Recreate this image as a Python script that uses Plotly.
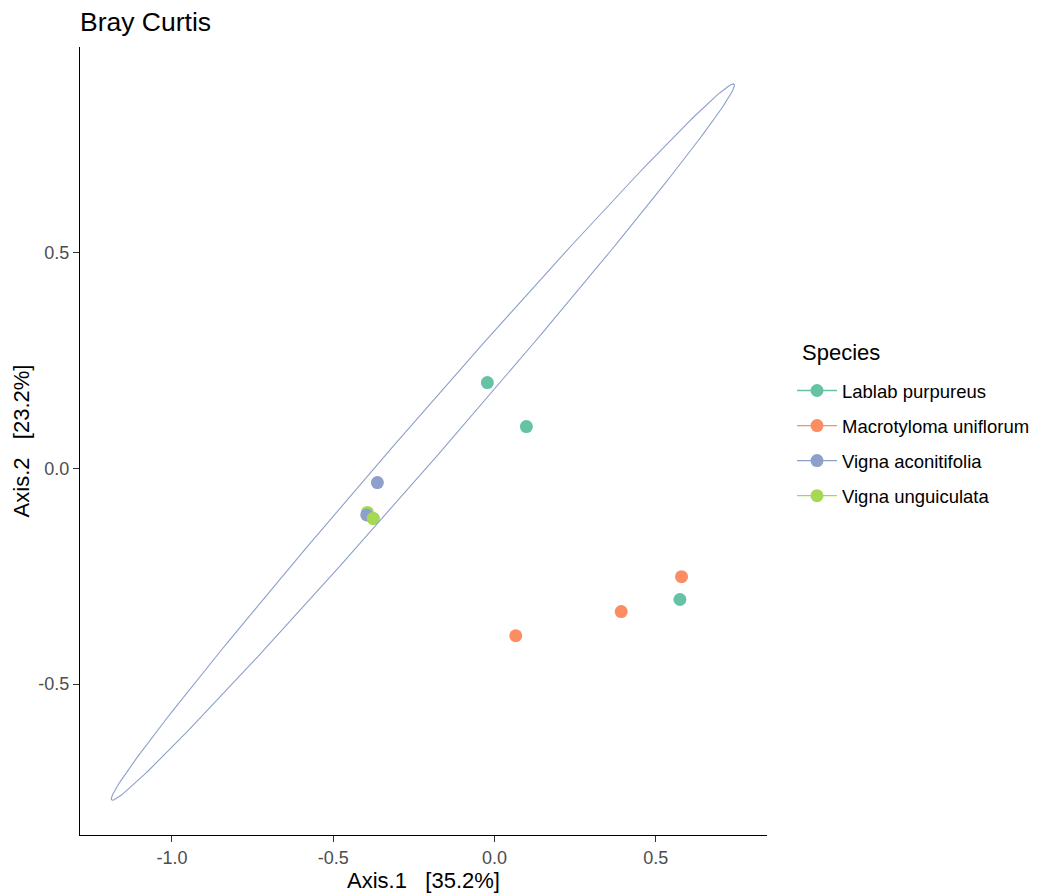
import numpy as np
import plotly.graph_objects as go

# PCoA ordination scores (Bray-Curtis), per species
species = ["Lablab purpureus", "Macrotyloma uniflorum", "Vigna aconitifolia", "Vigna unguiculata"]
colors = ["#66C2A5", "#FC8D62", "#8DA0CB", "#A6D854"]

lablab_x = [-0.022, 0.099, 0.575]
lablab_y = [0.199, 0.097, -0.304]
macro_x = [0.580, 0.393, 0.066]
macro_y = [-0.251, -0.332, -0.388]
aconit_x = [-0.363, -0.396]
aconit_y = [-0.033, -0.108]
unguic_x = [-0.394, -0.376]
unguic_y = [-0.102, -0.116]

# Confidence ellipse for Vigna aconitifolia: centre, major and minor half-axis vectors
ell_center = (-0.222, 0.061)
ell_major = (0.965, 0.830)
ell_minor = (0.046, -0.030)

x_ticks = [-1.0, -0.5, 0.0, 0.5]
x_ticktext = ["-1.0", "-0.5", "0.0", "0.5"]
y_ticks = [-0.5, 0.0, 0.5]
y_ticktext = ["-0.5", "0.0", "0.5"]

FONT = "Liberation Sans, Arial, sans-serif"
MSIZE = 13

fig = go.Figure()

series = [
    (species[0], colors[0], lablab_x, lablab_y),
    (species[1], colors[1], macro_x, macro_y),
    (species[3], colors[3], unguic_x, unguic_y),
    (species[2], colors[2], aconit_x, aconit_y),
]
for name, col, xs, ys in series:
    fig.add_trace(go.Scatter(
        x=xs, y=ys, mode="markers", name=name, legendgroup=name, showlegend=False,
        marker=dict(color=col, size=MSIZE, line=dict(width=0)),
    ))
# second cowpea sample sits above the moth bean point
fig.add_trace(go.Scatter(
    x=unguic_x[1:], y=unguic_y[1:], mode="markers", legendgroup=species[3], showlegend=False,
    marker=dict(color=colors[3], size=MSIZE, line=dict(width=0)),
))

# ellipse outline
t = np.linspace(0, 2 * np.pi, 241)
ex = ell_center[0] + ell_major[0] * np.cos(t) + ell_minor[0] * np.sin(t)
ey = ell_center[1] + ell_major[1] * np.cos(t) + ell_minor[1] * np.sin(t)
fig.add_trace(go.Scatter(
    x=ex, y=ey, mode="lines", showlegend=False, hoverinfo="skip",
    line=dict(color=colors[2], width=1.1),
))

# legend keys (point over path)
for name, col in zip(species, colors):
    fig.add_trace(go.Scatter(
        x=[None], y=[None], mode="lines+markers", name=name, legendgroup=name,
        marker=dict(color=col, size=MSIZE), line=dict(color=col, width=1.3),
    ))

axis_common = dict(
    showgrid=False, zeroline=False, showline=True, linecolor="black", linewidth=1.3,
    ticks="outside", ticklen=6, tickwidth=1.2, tickcolor="#333333",
    tickfont=dict(family=FONT, size=18, color="#4D4D4D"),
    mirror=False,
)

fig.update_layout(
    width=1038, height=895,
    margin=dict(l=80, r=271, t=47, b=60, autoexpand=False),
    paper_bgcolor="white", plot_bgcolor="white",
    font=dict(family=FONT, color="black"),
    title=dict(
        text="Bray Curtis", x=80 / 1038, xref="container", xanchor="left",
        y=1 - 22 / 895, yanchor="middle", font=dict(family=FONT, size=26.5, color="black"),
    ),
    xaxis=dict(
        range=[-1.285, 0.845], tickvals=x_ticks, ticktext=x_ticktext,
        title=dict(text="Axis.1   [35.2%]", font=dict(family=FONT, size=22, color="black"), standoff=4),
        **axis_common,
    ),
    yaxis=dict(
        range=[-0.850, 0.977], tickvals=y_ticks, ticktext=y_ticktext,
        title=dict(text="Axis.2   [23.2%]", font=dict(family=FONT, size=22, color="black"), standoff=2),
        **axis_common,
    ),
    legend=dict(
        x=1.0364, xanchor="left", y=0.5876, yanchor="top",
        font=dict(family=FONT, size=18.5, color="black"),
        itemwidth=40, tracegroupgap=8, bgcolor="rgba(0,0,0,0)",
    ),
    annotations=[dict(
        text="Species", xref="paper", yref="paper",
        x=1 + 33 / 687, xanchor="left", y=1 - (352 - 47) / 788, yanchor="middle",
        showarrow=False, font=dict(family=FONT, size=22, color="black"),
    )],
    showlegend=True,
)

fig.write_html("out.html")
